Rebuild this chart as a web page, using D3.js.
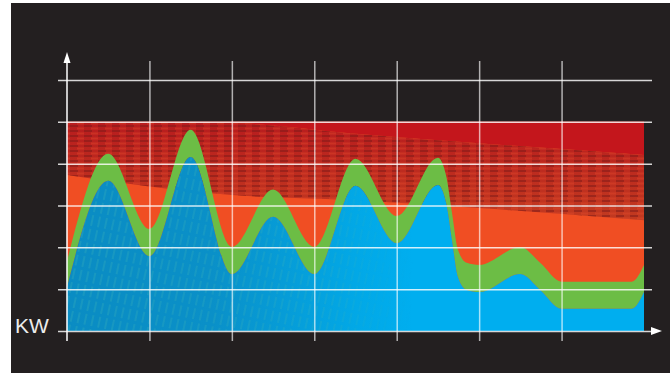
<!DOCTYPE html>
<html>
<head>
<meta charset="utf-8">
<script src="https://cdn.jsdelivr.net/npm/d3@7"></script>
<style>
  body { margin: 0; background: #fff; }
  svg { display: block; }
</style>
</head>
<body>
<svg id="chart" width="670" height="373"></svg>
<script>
// positions along the x axis (grid units) where the curves were read
const xVals = [0, 0.5, 1, 1.5, 2, 2.5, 3, 3.5, 4, 4.5, 4.6, 4.67, 4.74, 4.85, 5, 5.5, 5.74, 6, 6.85, 7];
// blue series (KW)
const kwValues = [1.05, 3.59, 1.79, 4.16, 1.36, 2.73, 1.36, 3.47, 2.10, 3.49, 3.06, 2.18, 1.31, 0.98, 0.93, 1.36, 0.98, 0.53, 0.53, 0.93];
// green band on top of the blue
const bandValues = [0.62, 0.65, 0.65, 0.65, 0.65, 0.65, 0.65, 0.65, 0.65, 0.65, 0.65, 0.65, 0.65, 0.65, 0.65, 0.65, 0.65, 0.65, 0.65, 0.65];
// red ceiling and the dark haze band inside it
const redCeiling = 5;
const hazeX = [0, 2, 3.43, 5, 7];
const hazeTop = [5.0, 4.97, 4.73, 4.49, 4.21];
const hazeBottom = [3.73, 3.25, 3.13, 2.94, 2.65];
// ticks
const xTicks = [0, 1, 2, 3, 4, 5, 6];
const yTicks = [0, 1, 2, 3, 4, 5, 6];
const axisLabel = 'KW';

const svg = d3.select('#chart');

const x = d3.scaleLinear().domain([0, 7]).range([67, 644]);
const y = d3.scaleLinear().domain([0, 6]).range([331, 80]);

// background
svg.append('rect')
    .attr('x', 11).attr('y', 3)
    .attr('width', 659).attr('height', 370)
    .attr('fill', '#231f20');

let defs = svg.append('defs');

// haze gradient + texture
let hg = defs.append('linearGradient')
    .attr('id', 'hazeGrad')
    .attr('x1', 0).attr('y1', 0).attr('x2', 0).attr('y2', 1);
hg.append('stop').attr('offset', 0).attr('stop-color', '#b81c1e');
hg.append('stop').attr('offset', 1).attr('stop-color', '#c23a20');

let hp = defs.append('pattern')
    .attr('id', 'hazeTex')
    .attr('patternUnits', 'userSpaceOnUse')
    .attr('width', 14).attr('height', 5);
hp.append('rect').attr('x', 0).attr('y', 0).attr('width', 8).attr('height', 2)
    .attr('fill', '#7c1917').attr('opacity', 0.5);
hp.append('rect').attr('x', 7).attr('y', 2.5).attr('width', 8).attr('height', 2)
    .attr('fill', '#e5492a').attr('opacity', 0.4);

// blue gradient (dark on the left, cyan on the right)
let bg = defs.append('linearGradient')
    .attr('id', 'blueGrad')
    .attr('gradientUnits', 'userSpaceOnUse')
    .attr('x1', x(0)).attr('y1', 0).attr('x2', x(7)).attr('y2', 0);
bg.append('stop').attr('offset', 0).attr('stop-color', '#0a8cc3');
bg.append('stop').attr('offset', 0.25).attr('stop-color', '#0a90c8');
bg.append('stop').attr('offset', 0.5).attr('stop-color', '#02a8e6');
bg.append('stop').attr('offset', 0.6).attr('stop-color', '#00aeef');

// faint dashed stripes on the blue
let sp = defs.append('pattern')
    .attr('id', 'stripes')
    .attr('patternUnits', 'userSpaceOnUse')
    .attr('width', 7).attr('height', 14)
    .attr('patternTransform', 'rotate(12)');
sp.append('line')
    .attr('x1', 3).attr('y1', 0).attr('x2', 3).attr('y2', 14)
    .attr('stroke', '#3fb6b8').attr('stroke-width', 1)
    .attr('stroke-dasharray', '6 3');

let mg = defs.append('linearGradient')
    .attr('id', 'fadeGrad')
    .attr('gradientUnits', 'userSpaceOnUse')
    .attr('x1', x(0)).attr('y1', 0).attr('x2', x(7)).attr('y2', 0);
mg.append('stop').attr('offset', 0).attr('stop-color', '#fff').attr('stop-opacity', 0.55);
mg.append('stop').attr('offset', 0.45).attr('stop-color', '#fff').attr('stop-opacity', 0.4);
mg.append('stop').attr('offset', 0.6).attr('stop-color', '#fff').attr('stop-opacity', 0);
defs.append('mask').attr('id', 'fadeMask')
    .append('rect')
    .attr('x', 0).attr('y', 0).attr('width', 670).attr('height', 373)
    .attr('fill', 'url(#fadeGrad)');

// red / orange backdrop
let plot = svg.append('g');

plot.append('path')
    .datum([0, 7])
    .attr('d', d3.area().x(d => x(d)).y0(y(0)).y1(y(redCeiling)))
    .attr('fill', '#f04e23');

let hazeRows = hazeX.map((d, i) => ({x: d, top: hazeTop[i], bottom: hazeBottom[i]}));

plot.append('path')
    .datum(hazeRows)
    .attr('d', d3.area().curve(d3.curveMonotoneX)
        .x(d => x(d.x)).y0(d => y(d.top)).y1(y(redCeiling)))
    .attr('fill', '#c4161c');

let hazeArea = d3.area().curve(d3.curveMonotoneX)
    .x(d => x(d.x)).y0(d => y(d.bottom)).y1(d => y(d.top));

plot.append('path').datum(hazeRows).attr('d', hazeArea).attr('fill', 'url(#hazeGrad)');
plot.append('path').datum(hazeRows).attr('d', hazeArea).attr('fill', 'url(#hazeTex)');

// stacked blue + green
let rows = xVals.map((d, i) => ({x: d, kw: kwValues[i], band: bandValues[i]}));
let series = d3.stack().keys(['kw', 'band'])(rows);

let area = d3.area().curve(d3.curveMonotoneX)
    .x(d => x(d.data.x))
    .y0(d => y(d[0]))
    .y1(d => y(d[1]));

plot.append('path').datum(series[1]).attr('d', area).attr('fill', '#6cbd45');
plot.append('path').datum(series[0]).attr('d', area).attr('fill', 'url(#blueGrad)');
plot.append('path').datum(series[0]).attr('d', area)
    .attr('fill', 'url(#stripes)')
    .attr('mask', 'url(#fadeMask)');

// grid
let gy = svg.append('g')
    .attr('transform', 'translate(58,0)')
    .call(d3.axisLeft(y).tickValues(yTicks).tickSize(-594).tickFormat(''));
gy.select('.domain').remove();
gy.selectAll('.tick line')
    .attr('stroke', '#fff').attr('stroke-width', 1.5).attr('stroke-opacity', 0.82);

let gx = svg.append('g')
    .attr('transform', 'translate(0,341)')
    .call(d3.axisBottom(x).tickValues(xTicks.slice(1)).tickSize(-280).tickFormat(''));
gx.select('.domain').remove();
gx.selectAll('.tick line')
    .attr('stroke', '#fff').attr('stroke-width', 1.5).attr('stroke-opacity', 0.65);

// axes with arrows
svg.append('line')
    .attr('x1', x(0)).attr('x2', x(0))
    .attr('y1', 341).attr('y2', 60)
    .attr('stroke', '#fff').attr('stroke-width', 1.5);
svg.append('path')
    .attr('d', `M${x(0)},52L${x(0) - 3.5},63L${x(0) + 3.5},63Z`)
    .attr('fill', '#fff');
svg.append('path')
    .attr('d', `M662,${y(0)}L651,${y(0) - 4}L651,${y(0) + 4}Z`)
    .attr('fill', '#fff');

svg.append('text')
    .attr('x', 15).attr('y', 333)
    .attr('font-family', 'Liberation Sans, Arial, sans-serif')
    .attr('font-size', 21)
    .attr('fill', '#ececec')
    .text(axisLabel);
</script>
</body>
</html>
